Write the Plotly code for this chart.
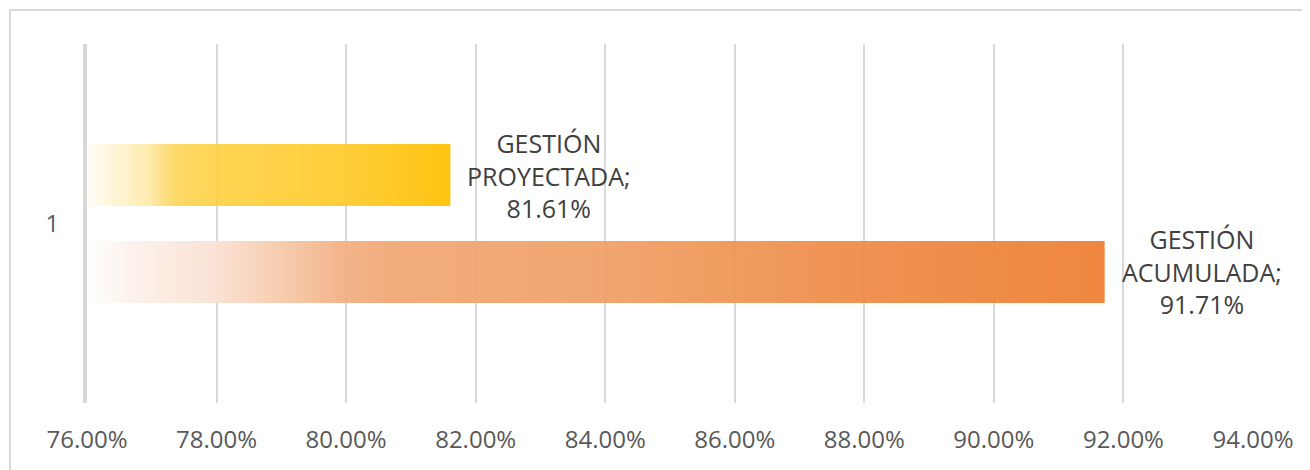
import plotly.graph_objects as go

# ---- data ----
categories = ["1"]
series_names = ["GESTIÓN PROYECTADA", "GESTIÓN ACUMULADA"]
series_values = [0.8161, 0.9171]
x_ticks = [0.76, 0.78, 0.80, 0.82, 0.84, 0.86, 0.88, 0.90, 0.92, 0.94]

# ---- style ----
AXIS_MIN, AXIS_MAX = 0.76, 0.94
bar_centers = [0.135, -0.135]      # grouped offsets inside category band
bar_half = 0.0864
A = 0.93
gradients = [
    [[0.0, f"rgba(255,253,247,{A})"], [0.17, f"rgba(254,234,168,{A})"],
     [0.24, f"rgba(253,214,95,{A})"], [0.36, f"rgba(253,209,69,{A})"],
     [0.71, f"rgba(255,202,42,{A})"], [1.0, f"rgba(255,192,0,{A})"]],
    [[0.0, f"rgba(255,255,255,{A})"], [0.04, f"rgba(252,242,235,{A})"],
     [0.126, f"rgba(250,224,210,{A})"], [0.195, f"rgba(246,199,166,{A})"],
     [0.25, f"rgba(242,175,130,{A})"], [0.3, f"rgba(241,166,114,{A})"],
     [0.5, f"rgba(240,160,102,{A})"], [0.6, f"rgba(239,151,88,{A})"],
     [0.76, f"rgba(238,138,69,{A})"], [1.0, f"rgba(237,125,49,{A})"]],
]
FONT = "Open Sans"

fig = go.Figure()
for name, val, yc, grad in zip(series_names, series_values, bar_centers, gradients):
    xs = [AXIS_MIN, val, val, AXIS_MIN, AXIS_MIN]
    ys = [yc - bar_half, yc - bar_half, yc + bar_half, yc + bar_half, yc - bar_half]
    fig.add_trace(go.Scatter(
        x=xs, y=ys, mode="lines", fill="toself", line=dict(width=0),
        fillgradient=dict(type="horizontal", colorscale=grad),
        name=name, hoverinfo="skip", showlegend=False,
    ))
    words = name.split(" ")
    label = "<br>".join(words[:-1] + [words[-1] + ";"]) + f"<br>{val*100:.2f}%"
    fig.add_annotation(
        x=val, y=yc, xref="x", yref="y", text=label, showarrow=False,
        xanchor="left", yanchor="middle", xshift=15, align="center",
        font=dict(family=FONT, size=25, color="#404040"),
    )

fig.update_xaxes(
    range=[AXIS_MIN, AXIS_MAX], tickvals=x_ticks, tickformat=".2%",
    showgrid=True, gridcolor="#D9D9D9", gridwidth=2, zeroline=False,
    showline=False, ticks="", ticklabelstandoff=20,
    tickfont=dict(family=FONT, size=24, color="#595959"),
)
fig.update_yaxes(
    range=[-0.5, 0.5], tickvals=[0], ticktext=categories,
    showgrid=False, zeroline=False, showline=True, linecolor="#D9D9D9",
    linewidth=4, ticks="", ticklabelstandoff=19,
    tickfont=dict(family=FONT, size=24, color="#595959"),
)

fig.add_shape(type="rect", xref="paper", yref="paper",
              x0=-0.066, x1=1.1, y0=-0.3, y1=1.0947,
              line=dict(color="#D9D9D9", width=2), fillcolor="rgba(0,0,0,0)",
              layer="below")

fig.update_layout(
    width=1302, height=462,
    margin=dict(l=79, r=57, t=36, b=67),
    plot_bgcolor="white", paper_bgcolor="white",
    showlegend=False,
)

fig.write_html("out.html")
